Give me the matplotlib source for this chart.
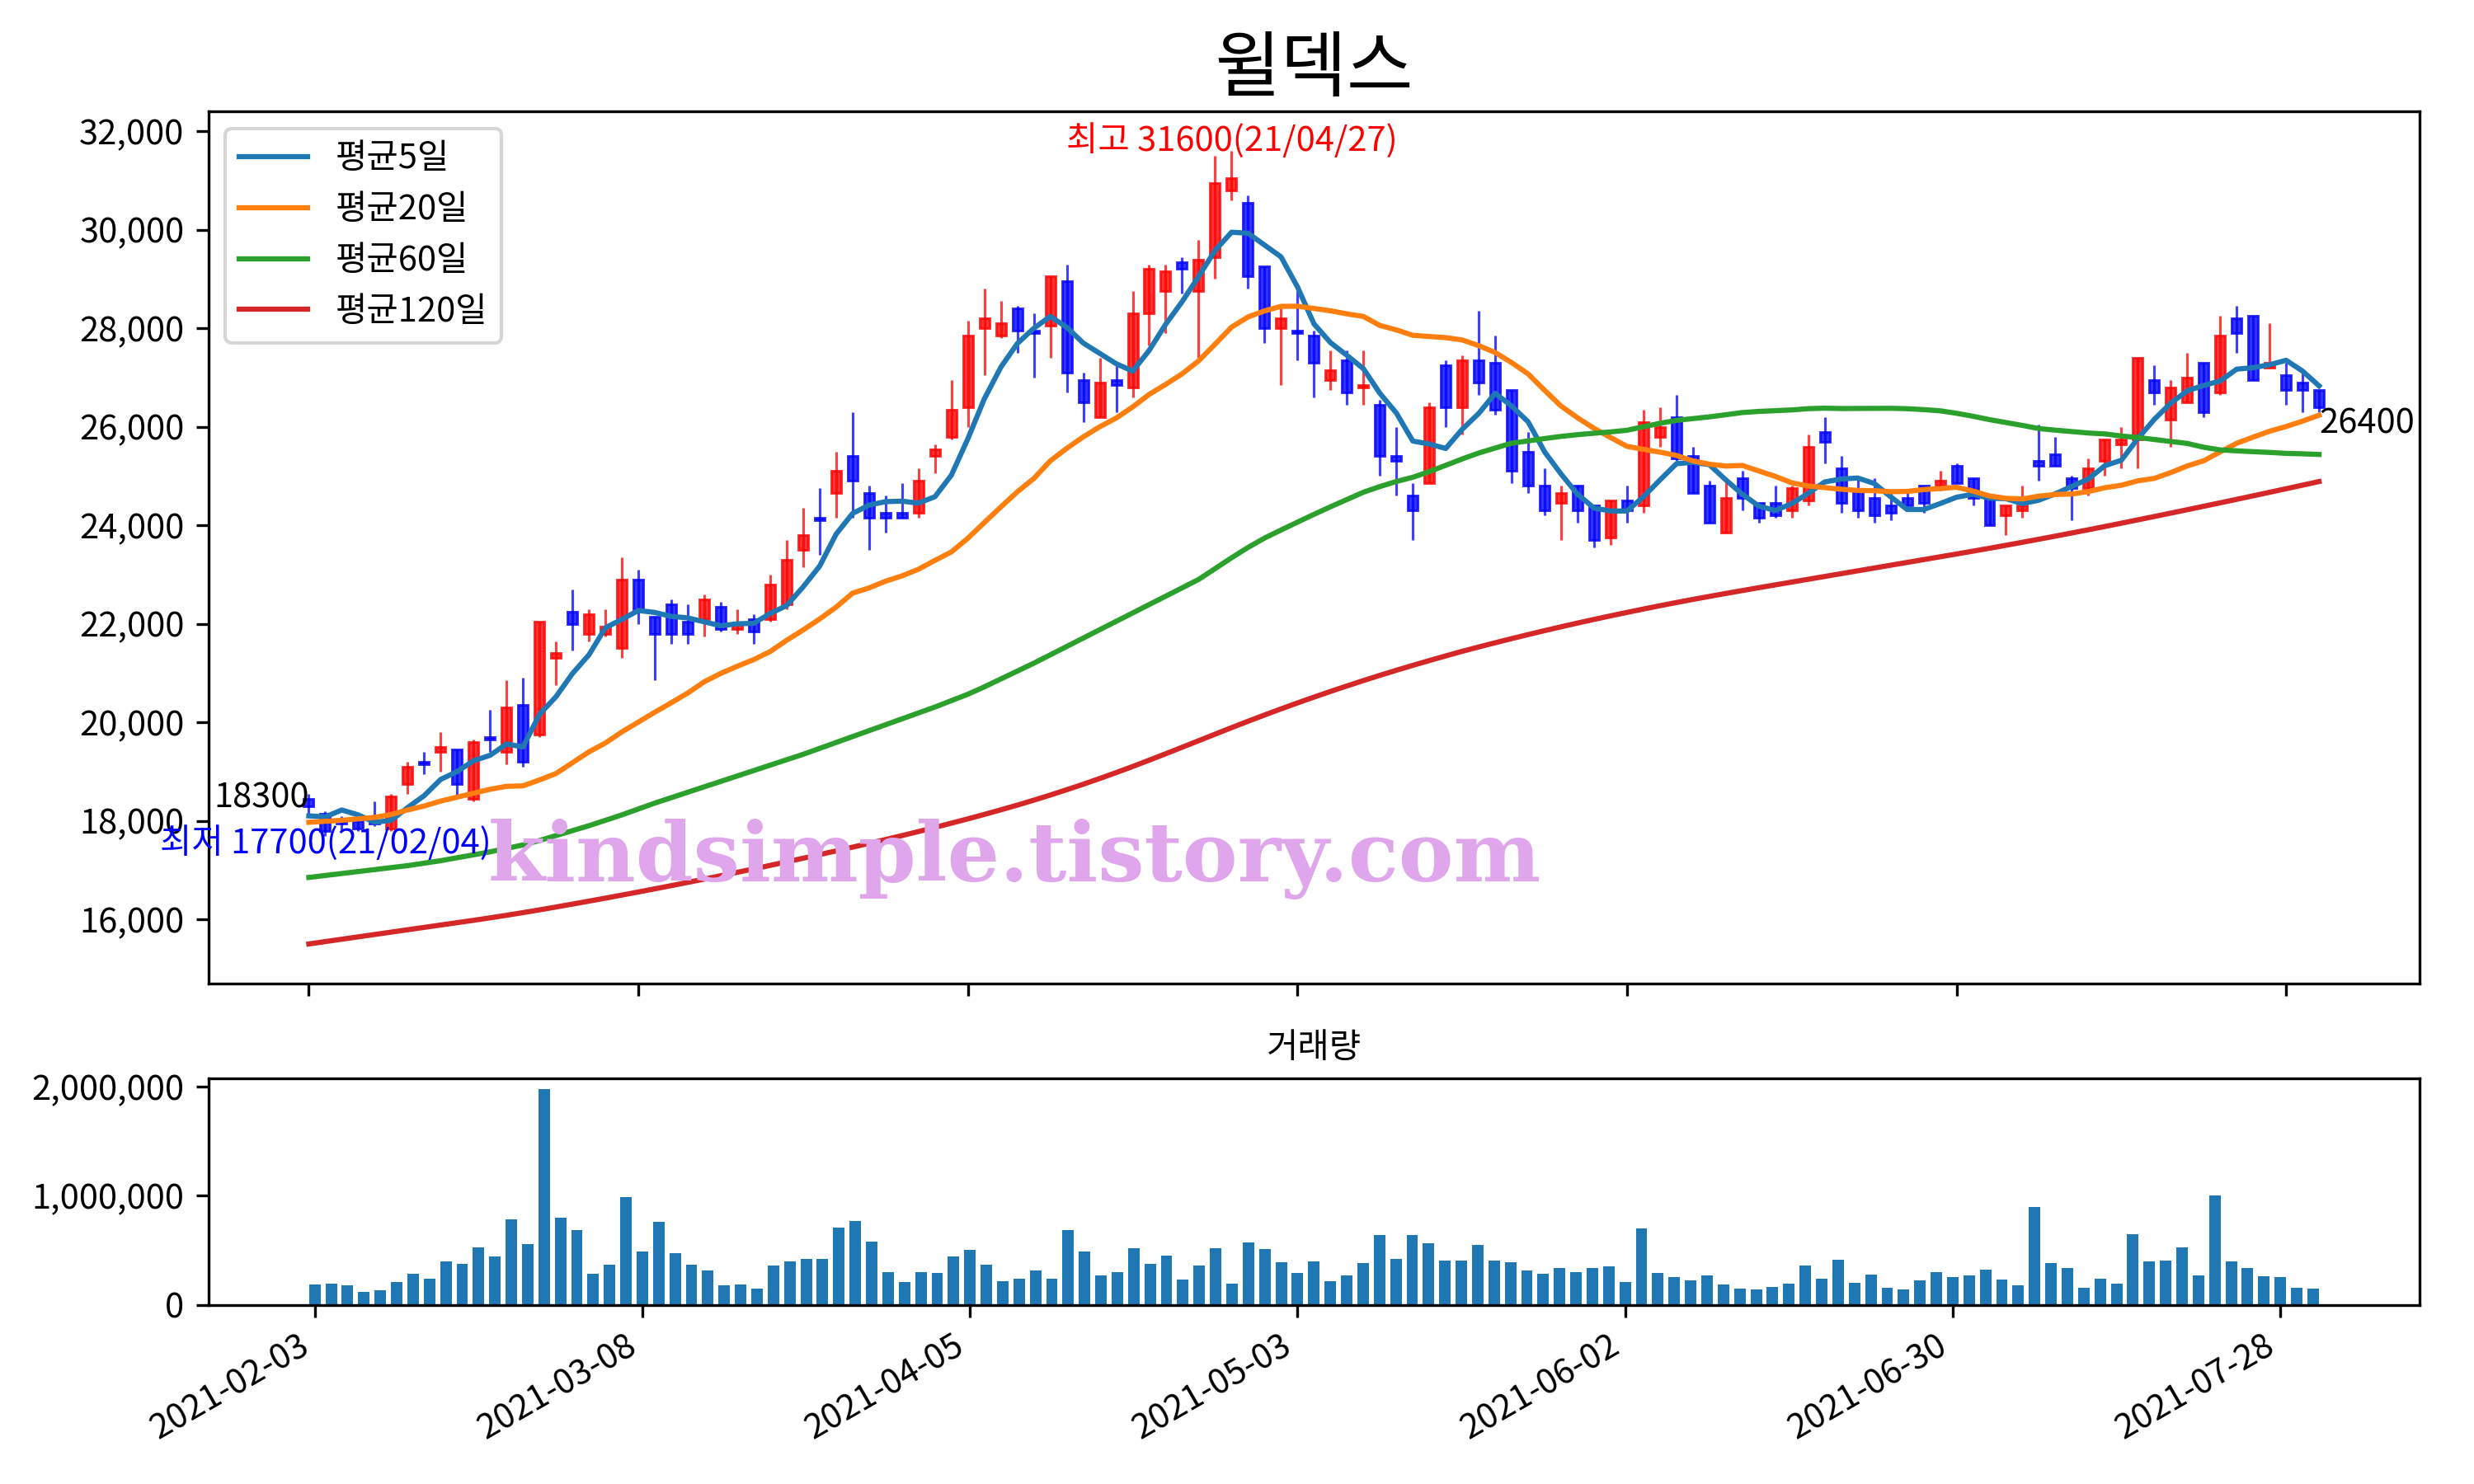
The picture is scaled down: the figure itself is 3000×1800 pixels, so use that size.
import matplotlib
matplotlib.use('Agg')
import matplotlib.pyplot as plt
from matplotlib.patches import Rectangle
from matplotlib.ticker import FuncFormatter
import numpy as np
import pandas as pd

plt.rcParams['font.family'] = ['Noto Sans CJK KR', 'DejaVu Sans']
plt.rcParams['axes.unicode_minus'] = False

title = '윌덱스'
tick_labels = ['2021-02-03', '2021-03-08', '2021-04-05', '2021-05-03',
               '2021-06-02', '2021-06-30', '2021-07-28']

opens = [18450, 18150, 18000, 18000, 18000, 17850, 18750, 19200, 19400, 19450,
         18450, 19700, 19400, 20350, 19750, 21300, 22250, 21800, 21800, 21500,
         22900, 22150, 22400, 22050, 22100, 22350, 21900, 22100, 22100, 22400,
         23500, 24150, 24650, 25400, 24650, 24250, 24250, 24250, 25400, 25800,
         26400, 28000, 27850, 28400, 27950, 28050, 28950, 26950, 26200, 26950,
         26800, 28300, 28750, 29350, 28750, 29450, 30800, 30550, 29250, 28000,
         27950, 27850, 26950, 27350, 26800, 26450, 25400, 24600, 24850, 27250,
         26400, 27350, 27300, 26750, 25500, 24800, 24450, 24800, 24400, 23750,
         24500, 24400, 25800, 26200, 25400, 24800, 23850, 24950, 24450, 24450,
         24300, 24500, 25900, 25150, 24700, 24550, 24400, 24550, 24800, 24800,
         25200, 24950, 24550, 24200, 24300, 25300, 25450, 24950, 24750, 25300,
         25650, 25750, 26950, 26150, 26500, 27300, 26700, 28200, 28250, 27200,
         27050, 26900, 26750]

highs = [18550, 18200, 18100, 18100, 18400, 18550, 19200, 19400, 19800, 19450,
         19650, 20250, 20850, 20900, 22050, 21650, 22700, 22300, 22300, 23350,
         23100, 22150, 22500, 22400, 22600, 22450, 22300, 22200, 23000, 23700,
         24350, 24750, 25500, 26300, 24800, 24600, 24850, 25150, 25650, 26950,
         28150, 28800, 28550, 28450, 28300, 29050, 29300, 27100, 27400, 27250,
         28750, 29300, 29300, 29450, 29800, 31500, 31600, 30700, 29250, 28400,
         28750, 27950, 27550, 27550, 27550, 26550, 26000, 24850, 26500, 27350,
         27450, 28350, 27850, 26750, 25900, 25150, 24800, 24800, 24400, 24500,
         24800, 26350, 26400, 26650, 25600, 24900, 24900, 25100, 24450, 24800,
         24800, 25850, 26200, 25400, 24950, 24950, 24700, 24650, 24800, 25100,
         25250, 24950, 24550, 24400, 24800, 26050, 25800, 25000, 25350, 25750,
         26000, 27400, 27250, 26950, 27500, 27300, 28250, 28450, 28250, 28100,
         27300, 27100, 26750]

lows = [18150, 17700, 17800, 17800, 17900, 17800, 18550, 18950, 19000, 18500,
        18400, 19400, 19150, 19100, 19700, 20750, 21450, 21650, 21750, 21300,
        22000, 20850, 21600, 21600, 21750, 21850, 21800, 21600, 22050, 22300,
        23150, 23400, 24150, 24150, 23500, 23850, 24150, 24150, 25050, 25750,
        26000, 27050, 27800, 27500, 27000, 27400, 26700, 26100, 26200, 26300,
        26600, 27650, 27900, 28700, 27400, 29000, 30600, 28800, 27700, 26850,
        27350, 26600, 26750, 26450, 26450, 25000, 24600, 23700, 24850, 26000,
        25850, 26650, 26250, 24850, 24650, 24200, 23700, 24050, 23550, 23600,
        24050, 24250, 25600, 25300, 24650, 24050, 23850, 24300, 24050, 24150,
        24150, 24400, 25250, 24250, 24150, 24050, 24100, 24400, 24250, 24700,
        24850, 24400, 24000, 23800, 24150, 24900, 25200, 24100, 24600, 25000,
        25150, 25150, 26450, 25600, 26500, 26200, 26650, 27500, 26950, 27200,
        26450, 26300, 26300]

closes = [18300, 17800, 17950, 17850, 17950, 18500, 19100, 19150, 19500, 18750,
          19600, 19650, 20300, 19200, 22050, 21400, 22000, 22200, 21950, 22900,
          22300, 21800, 21800, 21800, 22500, 21900, 22000, 21850, 22800, 23300,
          23800, 24100, 25100, 24900, 24150, 24150, 24150, 24900, 25550, 26350,
          27850, 28200, 28100, 27950, 27900, 29050, 27100, 26500, 26900, 26850,
          28300, 29200, 29150, 29200, 29400, 30950, 31050, 29050, 28000, 28200,
          27900, 27300, 27150, 26700, 26850, 25400, 25300, 24300, 26400, 26400,
          27350, 26900, 26350, 25100, 24800, 24300, 24650, 24300, 23700, 24500,
          24300, 26100, 26000, 25350, 24650, 24050, 24550, 24550, 24150, 24200,
          24750, 25600, 25700, 24450, 24300, 24200, 24250, 24400, 24450, 24900,
          24850, 24550, 24000, 24400, 24400, 25200, 25200, 24750, 25150, 25750,
          25750, 27400, 26700, 26800, 27000, 26300, 27850, 27900, 26950, 27300,
          26750, 26750, 26400]

volumes = [186000, 194000, 179000, 118000, 133000, 209000, 284000, 239000, 398000, 375000,
           526000, 443000, 783000, 556000, 1976000, 798000, 685000, 284000, 367000, 987000,
           488000, 760000, 473000, 367000, 315000, 179000, 186000, 149000, 360000, 398000,
           420000, 420000, 707000, 768000, 579000, 300000, 209000, 300000, 292000, 443000,
           503000, 367000, 216000, 239000, 315000, 239000, 685000, 488000, 269000, 300000,
           518000, 375000, 450000, 232000, 360000, 518000, 194000, 571000, 511000, 390000,
           292000, 398000, 216000, 269000, 383000, 639000, 420000, 639000, 564000, 405000,
           405000, 549000, 405000, 390000, 315000, 284000, 337000, 300000, 337000, 352000,
           209000, 700000, 292000, 254000, 224000, 269000, 186000, 149000, 141000, 164000,
           194000, 360000, 239000, 413000, 201000, 277000, 156000, 141000, 224000, 300000,
           254000, 269000, 322000, 232000, 179000, 896000, 383000, 337000, 156000, 239000,
           194000, 647000, 398000, 405000, 526000, 269000, 1002000, 398000, 337000, 262000,
           254000, 156000, 149000]

ma5_head = [18100, 18080, 18220, 18120]
ma20_head = [17970, 17990, 18010, 18040, 18070, 18130, 18220, 18300, 18400, 18480,
             18560, 18640, 18700, 18710, 18830, 18960, 19180, 19400, 19580]
ma60_head = [16850, 16890, 16930, 16970, 17010, 17050, 17090, 17140, 17190, 17250,
             17310, 17370, 17440, 17510, 17600, 17700, 17800, 17900, 18010, 18120,
             18240, 18360, 18470, 18580, 18690, 18800, 18910, 19020, 19130, 19240,
             19350, 19470, 19590, 19710, 19830, 19950, 20070, 20190, 20310, 20440,
             20570, 20720, 20880, 21040, 21200, 21370, 21540, 21710, 21880, 22050,
             22220, 22390, 22560, 22730, 22900, 23120, 23340, 23550, 23740]
ma120 = [15500, 15548, 15596, 15644, 15692, 15740, 15788, 15836, 15884, 15932,
         15980, 16030, 16082, 16136, 16192, 16250, 16309, 16369, 16430, 16492,
         16555, 16619, 16684, 16750, 16817, 16885, 16954, 17024, 17095, 17167,
         17240, 17314, 17389, 17465, 17542, 17620, 17700, 17782, 17866, 17952,
         18040, 18130, 18223, 18319, 18419, 18523, 18631, 18743, 18859, 18979,
         19103, 19231, 19361, 19493, 19626, 19759, 19891, 20021, 20148, 20272,
         20393, 20511, 20626, 20738, 20847, 20953, 21056, 21156, 21253, 21348,
         21441, 21529, 21615, 21699, 21781, 21861, 21939, 22015, 22089, 22161,
         22231, 22300, 22367, 22432, 22495, 22556, 22616, 22675, 22733, 22790,
         22847, 22904, 22961, 23018, 23075, 23132, 23189, 23246, 23303, 23360,
         23417, 23475, 23534, 23594, 23655, 23717, 23780, 23844, 23909, 23975,
         24042, 24110, 24178, 24247, 24316, 24386, 24456, 24527, 24598, 24670,
         24742, 24815, 24888]

n = len(closes)
x = np.arange(n)
cs = pd.Series(closes, dtype=float)
ma5 = cs.rolling(5).mean().to_numpy()
ma5[:4] = ma5_head
ma20 = cs.rolling(20).mean().to_numpy()
ma20[:19] = ma20_head
ma60 = cs.rolling(60).mean().to_numpy()
ma60[:59] = ma60_head

fig = plt.figure(figsize=(10, 6), dpi=300)
ax = fig.add_axes([0.0842, 0.3372, 0.8938, 0.5878])
axv = fig.add_axes([0.0842, 0.1206, 0.8938, 0.1527])

# candles
for i in range(n):
    o, h, l, c = opens[i], highs[i], lows[i], closes[i]
    col = '#ff0000' if c >= o else '#0000ff'
    ax.vlines(i, l, h, color=col, linewidth=0.75, alpha=0.75, zorder=2)
    ax.add_patch(Rectangle((i - 0.3, min(o, c)), 0.6, abs(c - o),
                           facecolor=col, edgecolor=col, linewidth=0.7,
                           alpha=0.8, zorder=2))

ax.plot(x, ma5, color='#1f77b4', lw=1.5, label='평균5일', zorder=3)
ax.plot(x, ma20, color='#ff7f0e', lw=1.5, label='평균20일', zorder=3)
ax.plot(x, ma60, color='#2ca02c', lw=1.5, label='평균60일', zorder=3)
ax.plot(x, ma120, color='#d62728', lw=1.5, label='평균120일', zorder=3)

ax.set_xlim(-6.1, 128.1)
ax.set_ylim(14695, 32405)
ax.set_yticks(np.arange(16000, 32001, 2000))
ax.yaxis.set_major_formatter(FuncFormatter(lambda v, p: f'{v:,.0f}'))
ax.set_xticks(np.arange(0, 121, 20))
ax.set_xticklabels([])
ax.set_title(title, fontsize=21)
ax.legend(loc='upper left', fontsize=10)

imax = int(np.argmax(highs))
imin = int(np.argmin(lows))
ax.annotate(f'최고 {highs[imax]}(21/04/27)', (imax, highs[imax]), xytext=(0, -2),
            textcoords='offset points', color='red', ha='center', va='bottom', fontsize=10)
ax.annotate(f'최저 {lows[imin]}(21/02/04)', (imin, lows[imin]), xytext=(0, 3),
            textcoords='offset points', color='blue', ha='center', va='top', fontsize=10)
ax.annotate(f'{closes[0]}', (0, closes[0]), xytext=(0, -2.5),
            textcoords='offset points', color='black', ha='right', va='bottom', fontsize=10)
ax.annotate(f'{closes[-1]}', (n - 1, closes[-1]), xytext=(0, 0),
            textcoords='offset points', color='black', ha='left', va='top', fontsize=10)

fig.text(0.41, 0.421, 'kindsimple.tistory.com', color='#e0a6ec',
         fontsize=24, fontweight='bold', family='DejaVu Serif',
         ha='center', va='center', zorder=10)

# volume
axv.bar(x, volumes, width=0.7, color='#1f77b4')
axv.set_xlim(-6.5, 128.5)
axv.set_ylim(0, 2075000)
axv.set_yticks([0, 1000000, 2000000])
axv.yaxis.set_major_formatter(FuncFormatter(lambda v, p: f'{v:,.0f}'))
axv.set_xticks(np.arange(0, 121, 20))
axv.set_xticklabels(tick_labels, rotation=30, ha='right')
axv.set_title('거래량', fontsize=10)

fig.savefig('out.png', dpi=300)
